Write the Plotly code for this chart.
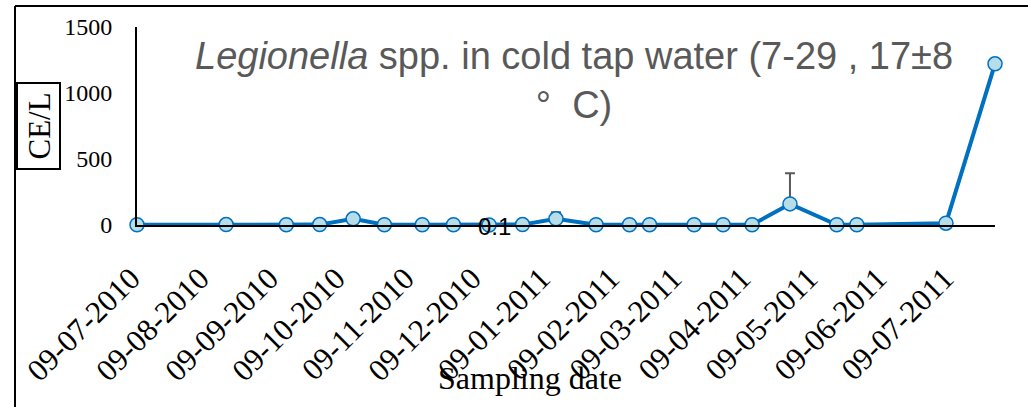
import plotly.graph_objects as go

# ---- data ----
sample_dates = [
    "2010-07-09", "2010-08-18", "2010-09-14", "2010-09-29", "2010-10-14",
    "2010-10-28", "2010-11-14", "2010-11-28", "2010-12-14", "2010-12-29",
    "2011-01-13", "2011-01-31", "2011-02-15", "2011-02-24", "2011-03-16",
    "2011-03-29", "2011-04-11", "2011-04-28", "2011-05-19", "2011-05-28",
    "2011-07-07", "2011-07-29",
]
ce_per_l = [2, 3, 2, 3, 47, 2, 2, 2, 0.1, 3, 47, 2, 2, 2, 2, 2, 2, 160, 2, 2, 14, 1221]
err_dates = ["2011-01-13", "2011-04-28"]
err_values = [47, 160]
err_plus = [50, 232]
label_index = 8
label_text = "0.1"

tick_dates = [
    "2010-07-09", "2010-08-09", "2010-09-09", "2010-10-09", "2010-11-09",
    "2010-12-09", "2011-01-09", "2011-02-09", "2011-03-09", "2011-04-09",
    "2011-05-09", "2011-06-09", "2011-07-09",
]
y_ticks = [0, 500, 1000, 1500]
x_range = ["2010-07-09", "2011-07-29"]
y_range = [0, 1500]

SERIF = "Liberation Serif, Times New Roman, serif"
SANS = "Liberation Sans, Arial, sans-serif"

fig = go.Figure()

# error bars (drawn first, so markers cover their base)
fig.add_trace(go.Scatter(
    x=err_dates, y=err_values, mode="markers",
    marker=dict(size=1, opacity=0),
    error_y=dict(type="data", array=err_plus, arrayminus=[0, 0],
                 color="#595959", thickness=2, width=5),
    showlegend=False, hoverinfo="skip", cliponaxis=False,
))

fig.add_trace(go.Scatter(
    x=sample_dates, y=ce_per_l, mode="lines+markers",
    line=dict(color="#0070C0", width=4),
    marker=dict(size=14, color="#B7DEE8", line=dict(color="#0070C0", width=1.5)),
    showlegend=False, cliponaxis=False,
))

# plot area in page px: x 137..995, y 27..225 (body margin removed by post_script)
W, H = 1028, 407
PX0, PX1, PY0, PY1 = 137, 995, 27, 225
L, T, R, B = PX0, PY0, W - PX1, H - PY1
PW, PH = PX1 - PX0, PY1 - PY0

def px_x(p):
    return (p - PX0) / PW

def px_y(p):
    return (PY1 - p) / PH

fig.update_layout(
    width=W, height=H,
    margin=dict(l=L, r=R, t=T, b=B, pad=0, autoexpand=False),
    paper_bgcolor="white", plot_bgcolor="white",
    xaxis=dict(
        type="date", range=x_range, automargin=False,
        tickvals=tick_dates, tickformat="%d-%m-%Y", tickangle=-45,
        tickfont=dict(family=SERIF, size=31, color="#000000"),
        showgrid=False, zeroline=False,
        showline=True, linecolor="#000000", linewidth=2,
        ticks="outside", ticklen=0, ticklabelstandoff=21, ticklabelshift=-6,
    ),
    yaxis=dict(
        range=y_range, tickvals=y_ticks, automargin=False,
        tickfont=dict(family=SERIF, size=24, color="#000000"),
        showgrid=False, zeroline=False,
        showline=True, linecolor="#000000", linewidth=2,
        ticks="outside", ticklen=0, ticklabelstandoff=18,
    ),
    annotations=[
        dict(
            text=label_text, x=sample_dates[label_index], y=ce_per_l[label_index],
            xref="x", yref="y", showarrow=False, xshift=5, yshift=-2,
            font=dict(family=SANS, size=24, color="#000000"),
        ),
        dict(
            text="<i>Legionella</i> spp. in cold tap water (7-29 , 17±8<br>°\u00a0\u00a0C)",
            xref="paper", yref="paper", x=px_x(574), y=px_y(33),
            xanchor="center", yanchor="top", showarrow=False,
            font=dict(family=SANS, size=38, color="#595959"),
        ),
        dict(
            text="CE/L", textangle=-90,
            xref="paper", yref="paper", x=px_x(38.5), y=px_y(126),
            xanchor="center", yanchor="middle", showarrow=False,
            font=dict(family=SERIF, size=31, color="#000000"),
        ),
        dict(
            text="Sampling date",
            xref="paper", yref="paper", x=px_x(530), y=px_y(378),
            xanchor="center", yanchor="middle", showarrow=False,
            font=dict(family=SERIF, size=32, color="#000000"),
        ),
    ],
    shapes=[
        dict(type="line", xref="paper", yref="paper",
             x0=px_x(15), x1=px_x(15), y0=px_y(420), y1=px_y(6),
             line=dict(color="#000000", width=2)),
        dict(type="line", xref="paper", yref="paper",
             x0=px_x(15), x1=px_x(1040), y0=px_y(6), y1=px_y(6),
             line=dict(color="#000000", width=2)),
        dict(type="rect", xref="paper", yref="paper",
             x0=px_x(17), x1=px_x(60), y0=px_y(169), y1=px_y(83),
             line=dict(color="#000000", width=2)),
    ],
)

fig.write_html("out.html", config={"displayModeBar": False},
               post_script="document.body.style.margin='0px';")
